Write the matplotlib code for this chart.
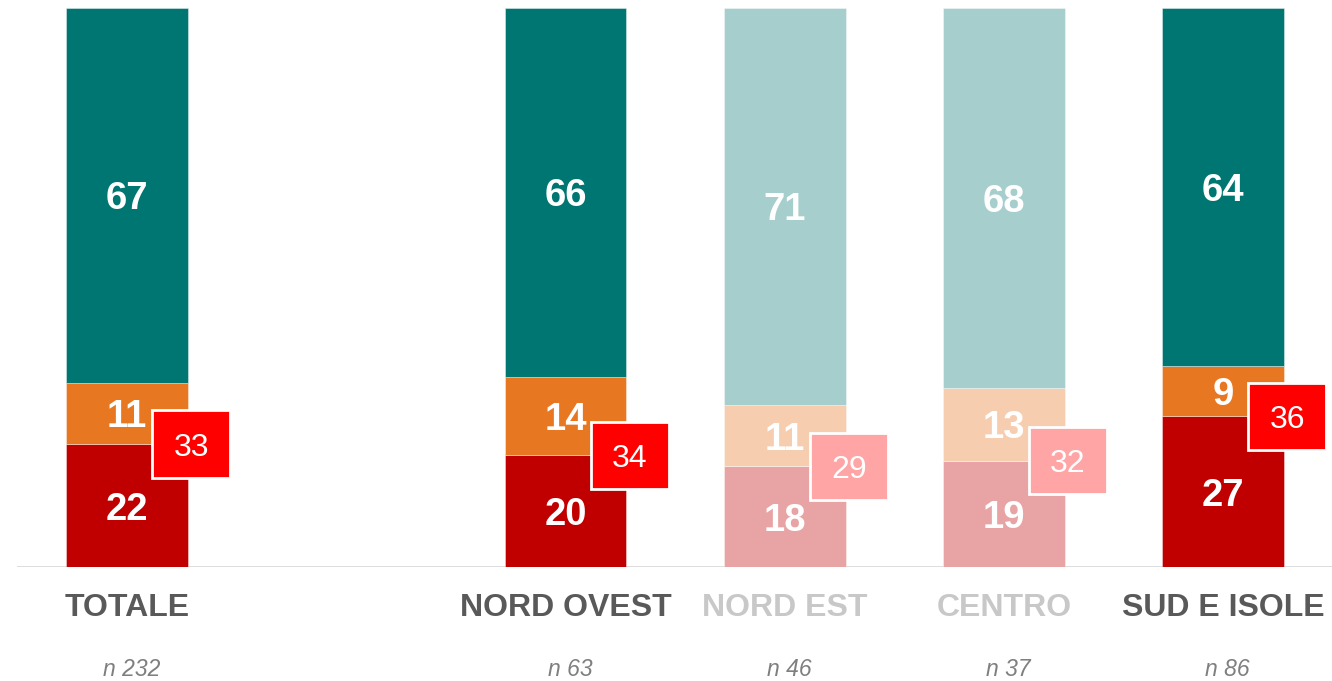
import matplotlib
matplotlib.use("Agg")
import matplotlib.pyplot as plt

# data
categories = ["TOTALE", "NORD OVEST", "NORD EST", "CENTRO", "SUD E ISOLE"]
n_labels = ["n 232", "n 63", "n 46", "n 37", "n 86"]
red_vals = [22, 20, 18, 19, 27]
orange_vals = [11, 14, 11, 13, 9]
teal_vals = [67, 66, 71, 68, 64]
faded = [False, False, True, True, False]

# layout
slots = [0, 2, 3, 4, 5]
BAR_W = 0.556
BOX_W = 0.355
BOX_H = 12

COL = dict(teal="#007672", orange="#e87722", red="#c00000", box="#ff0000", label="#595959")
COL_F = dict(teal="#a5cecd", orange="#f6cdaf", red="#e8a4a4", box="#ffa5a5", label="#c8c8c8")

plt.rcParams["font.family"] = ["Liberation Sans", "DejaVu Sans"]

fig = plt.figure(figsize=(13.32, 6.81), dpi=100)
ax = fig.add_axes([0.0131, 0.1674, 0.9874, 0.8209])
ax.set_xlim(-0.5, 5.5)
ax.set_ylim(0, 100)
ax.axis("off")

edge = (1, 1, 1, 0.45)
for i, x in enumerate(slots):
    c = COL_F if faded[i] else COL
    r, o, t = red_vals[i], orange_vals[i], teal_vals[i]
    ax.bar(x, r, BAR_W, color=c["red"], edgecolor=edge, linewidth=0.6, zorder=2)
    ax.bar(x, o, BAR_W, bottom=r, color=c["orange"], edgecolor=edge, linewidth=0.6, zorder=2)
    ax.bar(x, t, BAR_W, bottom=r + o, color=c["teal"], edgecolor=edge, linewidth=0.6, zorder=2)
    for val, mid in ((r, r / 2), (o, r + o / 2), (t, r + o + t / 2)):
        ax.text(x, mid, str(val), ha="center", va="center_baseline", color="white",
                fontsize=27.5, fontweight="bold", zorder=3)
    # total box (red + orange)
    bx = x + BAR_W / 2 + 0.015
    ax.bar(bx, BOX_H, BOX_W, bottom=r - BOX_H / 2, color=c["box"],
           edgecolor="white", linewidth=2, zorder=4)
    ax.text(bx, r, str(r + o), ha="center", va="center_baseline", color="white",
            fontsize=23, zorder=5)
    ax.text(x, -7.3, categories[i], ha="center", va="center", color=c["label"],
            fontsize=23, fontweight="bold", clip_on=False)
    ax.text(x + 0.02, -18.3, n_labels[i], ha="center", va="center", color="#7f7f7f",
            fontsize=16.5, style="italic", clip_on=False)

ax.axhline(0, color="#d9d9d9", linewidth=2, zorder=1)

fig.savefig("out.png", dpi=100)
